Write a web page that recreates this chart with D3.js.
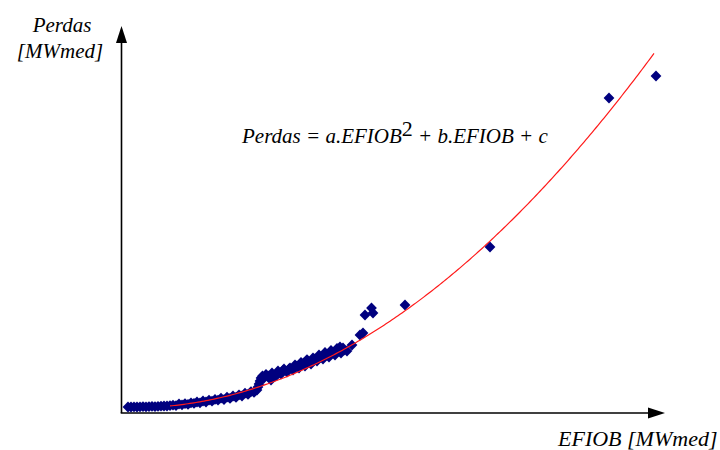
<!DOCTYPE html>
<html>
<head>
<meta charset="utf-8">
<script src="https://cdn.jsdelivr.net/npm/d3@7"></script>
<style>
  html, body { margin: 0; padding: 0; background: #ffffff; }
  svg { display: block; }
</style>
</head>
<body>
<svg id="chart" width="720" height="450"></svg>
<script>
// Observed losses versus EFIOB (both in MWmed)
const efiob = [
  12, 18, 24, 30, 36, 42, 48, 54, 60, 66, 72, 78, 84, 90, 96,
  102, 108, 114, 120, 126, 132, 138, 144, 150, 156, 162, 168, 174, 180, 186,
  192, 198, 204, 210, 216, 222, 228, 234, 240, 246, 252, 258, 264, 270,
  272, 274, 276, 278, 281, 284, 288, 292,
  296, 300, 306, 312, 318, 324, 330, 336, 342, 348, 354, 360, 366, 372, 378,
  384, 390, 396, 402, 408, 414, 420, 426, 432, 438, 444, 450,
  298, 310, 322, 334, 346, 358, 370, 382, 394, 406, 418, 430, 442,
  436, 460, 476, 482, 486, 499, 502, 566, 736, 974, 1068
];
const perdas = [
  1.5, 1.5, 1.6, 1.5, 1.6, 1.7, 1.6, 1.7, 1.8, 1.7, 1.8, 1.9, 2.0, 2.0, 2.2,
  2.4, 2.2, 3.0, 2.6, 3.2, 2.8, 3.6, 3.3, 4.0, 3.6, 4.5, 4.0, 4.9, 4.4, 5.3,
  4.9, 5.9, 5.2, 6.4, 5.8, 7.0, 6.3, 7.6, 7.0, 8.4, 7.8, 9.2, 8.8, 10.0,
  11.5, 13.0, 14.5, 16.0, 17.0, 16.0, 17.8, 17.0,
  16.5, 18.5, 17.0, 19.5, 18.0, 20.5, 19.0, 21.0, 20.0, 22.0, 21.0, 23.0, 22.0, 24.0, 23.0,
  25.5, 24.5, 26.5, 25.5, 27.5, 26.5, 28.5, 27.5, 29.5, 28.5, 30.0, 29.5,
  15.0, 17.5, 19.8, 20.5, 22.5, 23.8, 25.2, 26.0, 27.5, 28.8, 29.8, 30.8, 31.0,
  31.5, 32.5, 37.5, 38.5, 47.5, 51.0, 48.5, 52.5, 81.5, 156.0, 167.0
];

// Quadratic trend: Perdas = a.EFIOB^2 + b.EFIOB + c
const coefA = 0.0001625, coefB = -0.0064, coefC = 1.15;
const trendRange = [96, 1066];

// Axis labels
const yLabelLines = ["Perdas", "[MWmed]"];
const xLabel = "EFIOB [MWmed]";

const FONT = "'Liberation Serif', 'Times New Roman', Times, serif";

const svg = d3.select("#chart");

const x = d3.scaleLinear().domain([0, 1080]).range([122, 662]);
const y = d3.scaleLinear().domain([0, 190]).range([410, 30]);

const axisY0 = 413, axisX0 = 121.5;

// Axes with arrow heads
svg.append("line")
  .attr("x1", axisX0).attr("y1", axisY0)
  .attr("x2", axisX0).attr("y2", 40)
  .attr("stroke", "#000").attr("stroke-width", 1.6);
svg.append("line")
  .attr("x1", axisX0 - 0.8).attr("y1", axisY0)
  .attr("x2", 652).attr("y2", axisY0)
  .attr("stroke", "#000").attr("stroke-width", 1.6);
svg.append("path")
  .attr("d", `M${axisX0},26 L${axisX0 - 5.5},43 L${axisX0 + 5.5},43 Z`)
  .attr("fill", "#000");
svg.append("path")
  .attr("d", `M665,${axisY0} L648,${axisY0 - 5.5} L648,${axisY0 + 5.5} Z`)
  .attr("fill", "#000");

// Data points as diamonds
const pts = efiob.map((v, i) => ({ x: v, y: perdas[i] }));
const diamond = d3.symbol().type(d3.symbolSquare).size(58);
svg.append("g").selectAll("path")
  .data(pts)
  .join("path")
  .attr("d", diamond)
  .attr("transform", d => `translate(${x(d.x)},${y(d.y)}) rotate(45)`)
  .attr("fill", "#00007f");

// Trend curve
const curvePts = d3.range(trendRange[0], trendRange[1] + 1, 4)
  .map(v => [v, coefA * v * v + coefB * v + coefC]);
svg.append("path")
  .datum(curvePts)
  .attr("d", d3.line().x(d => x(d[0])).y(d => y(d[1])))
  .attr("fill", "none")
  .attr("stroke", "#ff1a1a")
  .attr("stroke-width", 1.2);

function label(xp, yp, size, anchor) {
  return svg.append("text")
    .attr("x", xp).attr("y", yp)
    .attr("font-family", FONT)
    .attr("font-style", "italic")
    .attr("font-size", size)
    .attr("text-anchor", anchor)
    .attr("fill", "#000");
}

// Y axis title
label(62, 32, 21, "middle").text(yLabelLines[0]);
label(60, 58, 21, "middle").text(yLabelLines[1]);

// X axis title
label(558, 446, 22, "start").text(xLabel);

// Fitted equation
const eq = label(242, 143, 21, "start");
eq.append("tspan").text("Perdas = a.EFIOB");
eq.append("tspan").attr("dy", -7).attr("font-size", 22).attr("font-style", "normal").text("2");
eq.append("tspan").attr("dy", 7).text(" + b.EFIOB + c");
</script>
</body>
</html>
